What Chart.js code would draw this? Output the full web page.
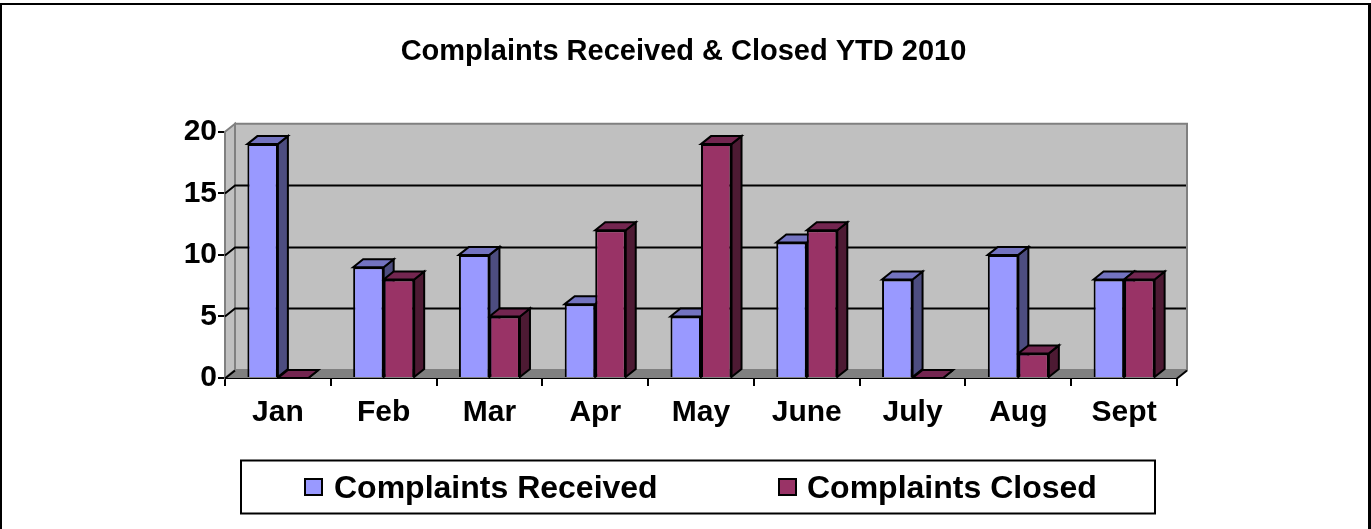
<!DOCTYPE html>
<html>
<head>
<meta charset="utf-8">
<title>Complaints Received & Closed YTD 2010</title>
<script src="https://cdn.jsdelivr.net/npm/chart.js@4"></script>
<style>
    html, body { margin: 0; padding: 0; background: #fff; overflow: hidden; }
    #frame {
        position: absolute; left: 0; top: 3px; width: 1366px; height: 526px;
        border: solid #000; border-width: 2px 3px 0 2px;
    }
    #chartBox { position: absolute; left: 0; top: 0; width: 1371px; height: 529px; }
</style>
</head>
<body>
<div id="frame"></div>
<div id="chartBox"><canvas id="complaintsChart" width="1371" height="529"></canvas></div>
<script>
const months = ['Jan', 'Feb', 'Mar', 'Apr', 'May', 'June', 'July', 'Aug', 'Sept'];
const complaintsReceived = [19, 9, 10, 6, 5, 11, 8, 10, 8];
const complaintsClosed = [0, 8, 5, 12, 19, 12, 0, 2, 8];

const FONT = '"Liberation Sans", Arial, sans-serif';
const DEPTH_X = 10;
const DEPTH_Y = 8;
const faceColors = [
    { top: '#7373C0', side: '#4D4D80' },
    { top: '#732650', side: '#4D1A33' }
];
const legendSpots = [{ box: 305, text: 334 }, { box: 779, text: 807 }];

function fillPoly(ctx, pts, fill, stroke, lineWidth)
{
    ctx.beginPath();
    pts.forEach((p, i) => (i ? ctx.lineTo(p[0], p[1]) : ctx.moveTo(p[0], p[1])));
    ctx.closePath();
    ctx.fillStyle = fill;
    ctx.fill();
    if (stroke) {
        ctx.strokeStyle = stroke;
        ctx.lineWidth = lineWidth;
        ctx.lineJoin = 'miter';
        ctx.stroke();
    }
}

function strokeLine(ctx, pts)
{
    ctx.beginPath();
    pts.forEach((p, i) => (i ? ctx.lineTo(p[0], p[1]) : ctx.moveTo(p[0], p[1])));
    ctx.strokeStyle = '#000';
    ctx.lineWidth = 2;
    ctx.stroke();
}

// Back wall, side wall, floor and the depth faces of the bars, all behind the normal bar fronts
const depthPlugin = {
    id: 'depthPlugin',
    beforeDatasetsDraw(chart) {
        const ctx = chart.ctx;
        const { left, right, top, bottom } = chart.chartArea;
        const y = chart.scales.y;
        ctx.save();
        fillPoly(ctx, [[left + DEPTH_X, top - DEPTH_Y], [right + DEPTH_X, top - DEPTH_Y], [right + DEPTH_X, bottom - DEPTH_Y], [left + DEPTH_X, bottom - DEPTH_Y]], '#C0C0C0', '#808080', 2);
        fillPoly(ctx, [[left, top], [left + DEPTH_X, top - DEPTH_Y], [left + DEPTH_X, bottom - DEPTH_Y], [left, bottom]], '#C0C0C0', '#808080', 2);
        fillPoly(ctx, [[left, bottom], [left + DEPTH_X, bottom - DEPTH_Y], [right + DEPTH_X, bottom - DEPTH_Y], [right, bottom]], '#808080');

        y.ticks.forEach(t => {
            if (t.value === y.max) {
                return;
            }
            const py = Math.round(y.getPixelForValue(t.value) - DEPTH_Y) + 0.5;
            if (t.value === 0) {
                strokeLine(ctx, [[left, py + DEPTH_Y], [left + DEPTH_X, py]]);
                strokeLine(ctx, [[right, py + DEPTH_Y], [right + DEPTH_X, py]]);
                return;
            }
            strokeLine(ctx, [[left, py + DEPTH_Y], [left + DEPTH_X, py], [right + DEPTH_X - 1, py]]);
        });

        months.forEach((m, idx) => {
            chart.data.datasets.forEach((ds, dsIdx) => {
                const bar = chart.getDatasetMeta(dsIdx).data[idx];
                const x0 = bar.x - bar.width / 2;
                const x1 = bar.x + bar.width / 2;
                const yTop = bar.y;
                const colors = faceColors[dsIdx];
                fillPoly(ctx, [[x1, yTop], [x1 + DEPTH_X, yTop - DEPTH_Y], [x1 + DEPTH_X, bar.base - DEPTH_Y], [x1, bar.base]], colors.side, '#000', 2);
                fillPoly(ctx, [[x0, yTop], [x0 + DEPTH_X, yTop - DEPTH_Y], [x1 + DEPTH_X, yTop - DEPTH_Y], [x1, yTop]], colors.top, '#000', 2);
            });
        });
        ctx.restore();
    }
};

// The legend has wider gaps than the built-in one can give without growing its height
const legendBoxPlugin = {
    id: 'legendBoxPlugin',
    afterDraw(chart) {
        const ctx = chart.ctx;
        ctx.save();
        ctx.strokeStyle = '#000';
        ctx.lineWidth = 2;
        ctx.strokeRect(241, 460.5, 914, 53);
        ctx.font = 'bold 32px ' + FONT;
        ctx.textBaseline = 'alphabetic';
        chart.data.datasets.forEach((ds, i) => {
            const spot = legendSpots[i];
            ctx.fillStyle = ds.backgroundColor;
            ctx.fillRect(spot.box, 479, 17, 16);
            ctx.strokeRect(spot.box, 479, 17, 16);
            ctx.fillStyle = '#000';
            ctx.fillText(ds.label, spot.text, 498);
        });
        ctx.restore();
    }
};

new Chart(document.getElementById('complaintsChart'), {
    type: 'bar',
    data: {
        labels: months,
        datasets: [
            { label: 'Complaints Received', data: complaintsReceived, backgroundColor: '#9999FF', borderColor: '#000', borderWidth: 2 },
            { label: 'Complaints Closed', data: complaintsClosed, backgroundColor: '#993366', borderColor: '#000', borderWidth: 2 }
        ]
    },
    options: {
        responsive: false,
        animation: false,
        layout: { padding: { top: 0, bottom: 89, right: 4 } },
        categoryPercentage: 0.577,
        barPercentage: 1,
        plugins: {
            tooltip: { enabled: false },
            legend: { display: false },
            title: {
                display: true,
                text: 'Complaints Received & Closed YTD 2010',
                color: '#000',
                font: { family: FONT, size: 29, weight: 'bold' },
                padding: { top: 35, bottom: 62 }
            }
        },
        scales: {
            x: {
                grid: { display: true, drawOnChartArea: false, color: '#000', lineWidth: 2, tickLength: 8, tickColor: '#000' },
                border: { color: '#000', width: 2 },
                ticks: { color: '#000', font: { family: FONT, size: 30, weight: 'bold' }, padding: 9, maxRotation: 0 }
            },
            y: {
                min: 0,
                max: 20,
                afterFit(scale) { scale.width = 225; },
                grid: { display: true, drawOnChartArea: false, color: '#000', lineWidth: 2, tickLength: 7, tickColor: '#000' },
                border: { color: '#000', width: 2 },
                ticks: { color: '#000', stepSize: 5, font: { family: FONT, size: 30, weight: 'bold' }, padding: 1 }
            },
            // empty axis, only keeps the plot clear of the right margin while the title stays centred on the page
            rightMargin: {
                position: 'right',
                afterFit(scale) { scale.width = 190; },
                grid: { display: false },
                border: { display: false },
                ticks: { display: false }
            }
        }
    },
    plugins: [depthPlugin, legendBoxPlugin]
});
</script>
</body>
</html>
